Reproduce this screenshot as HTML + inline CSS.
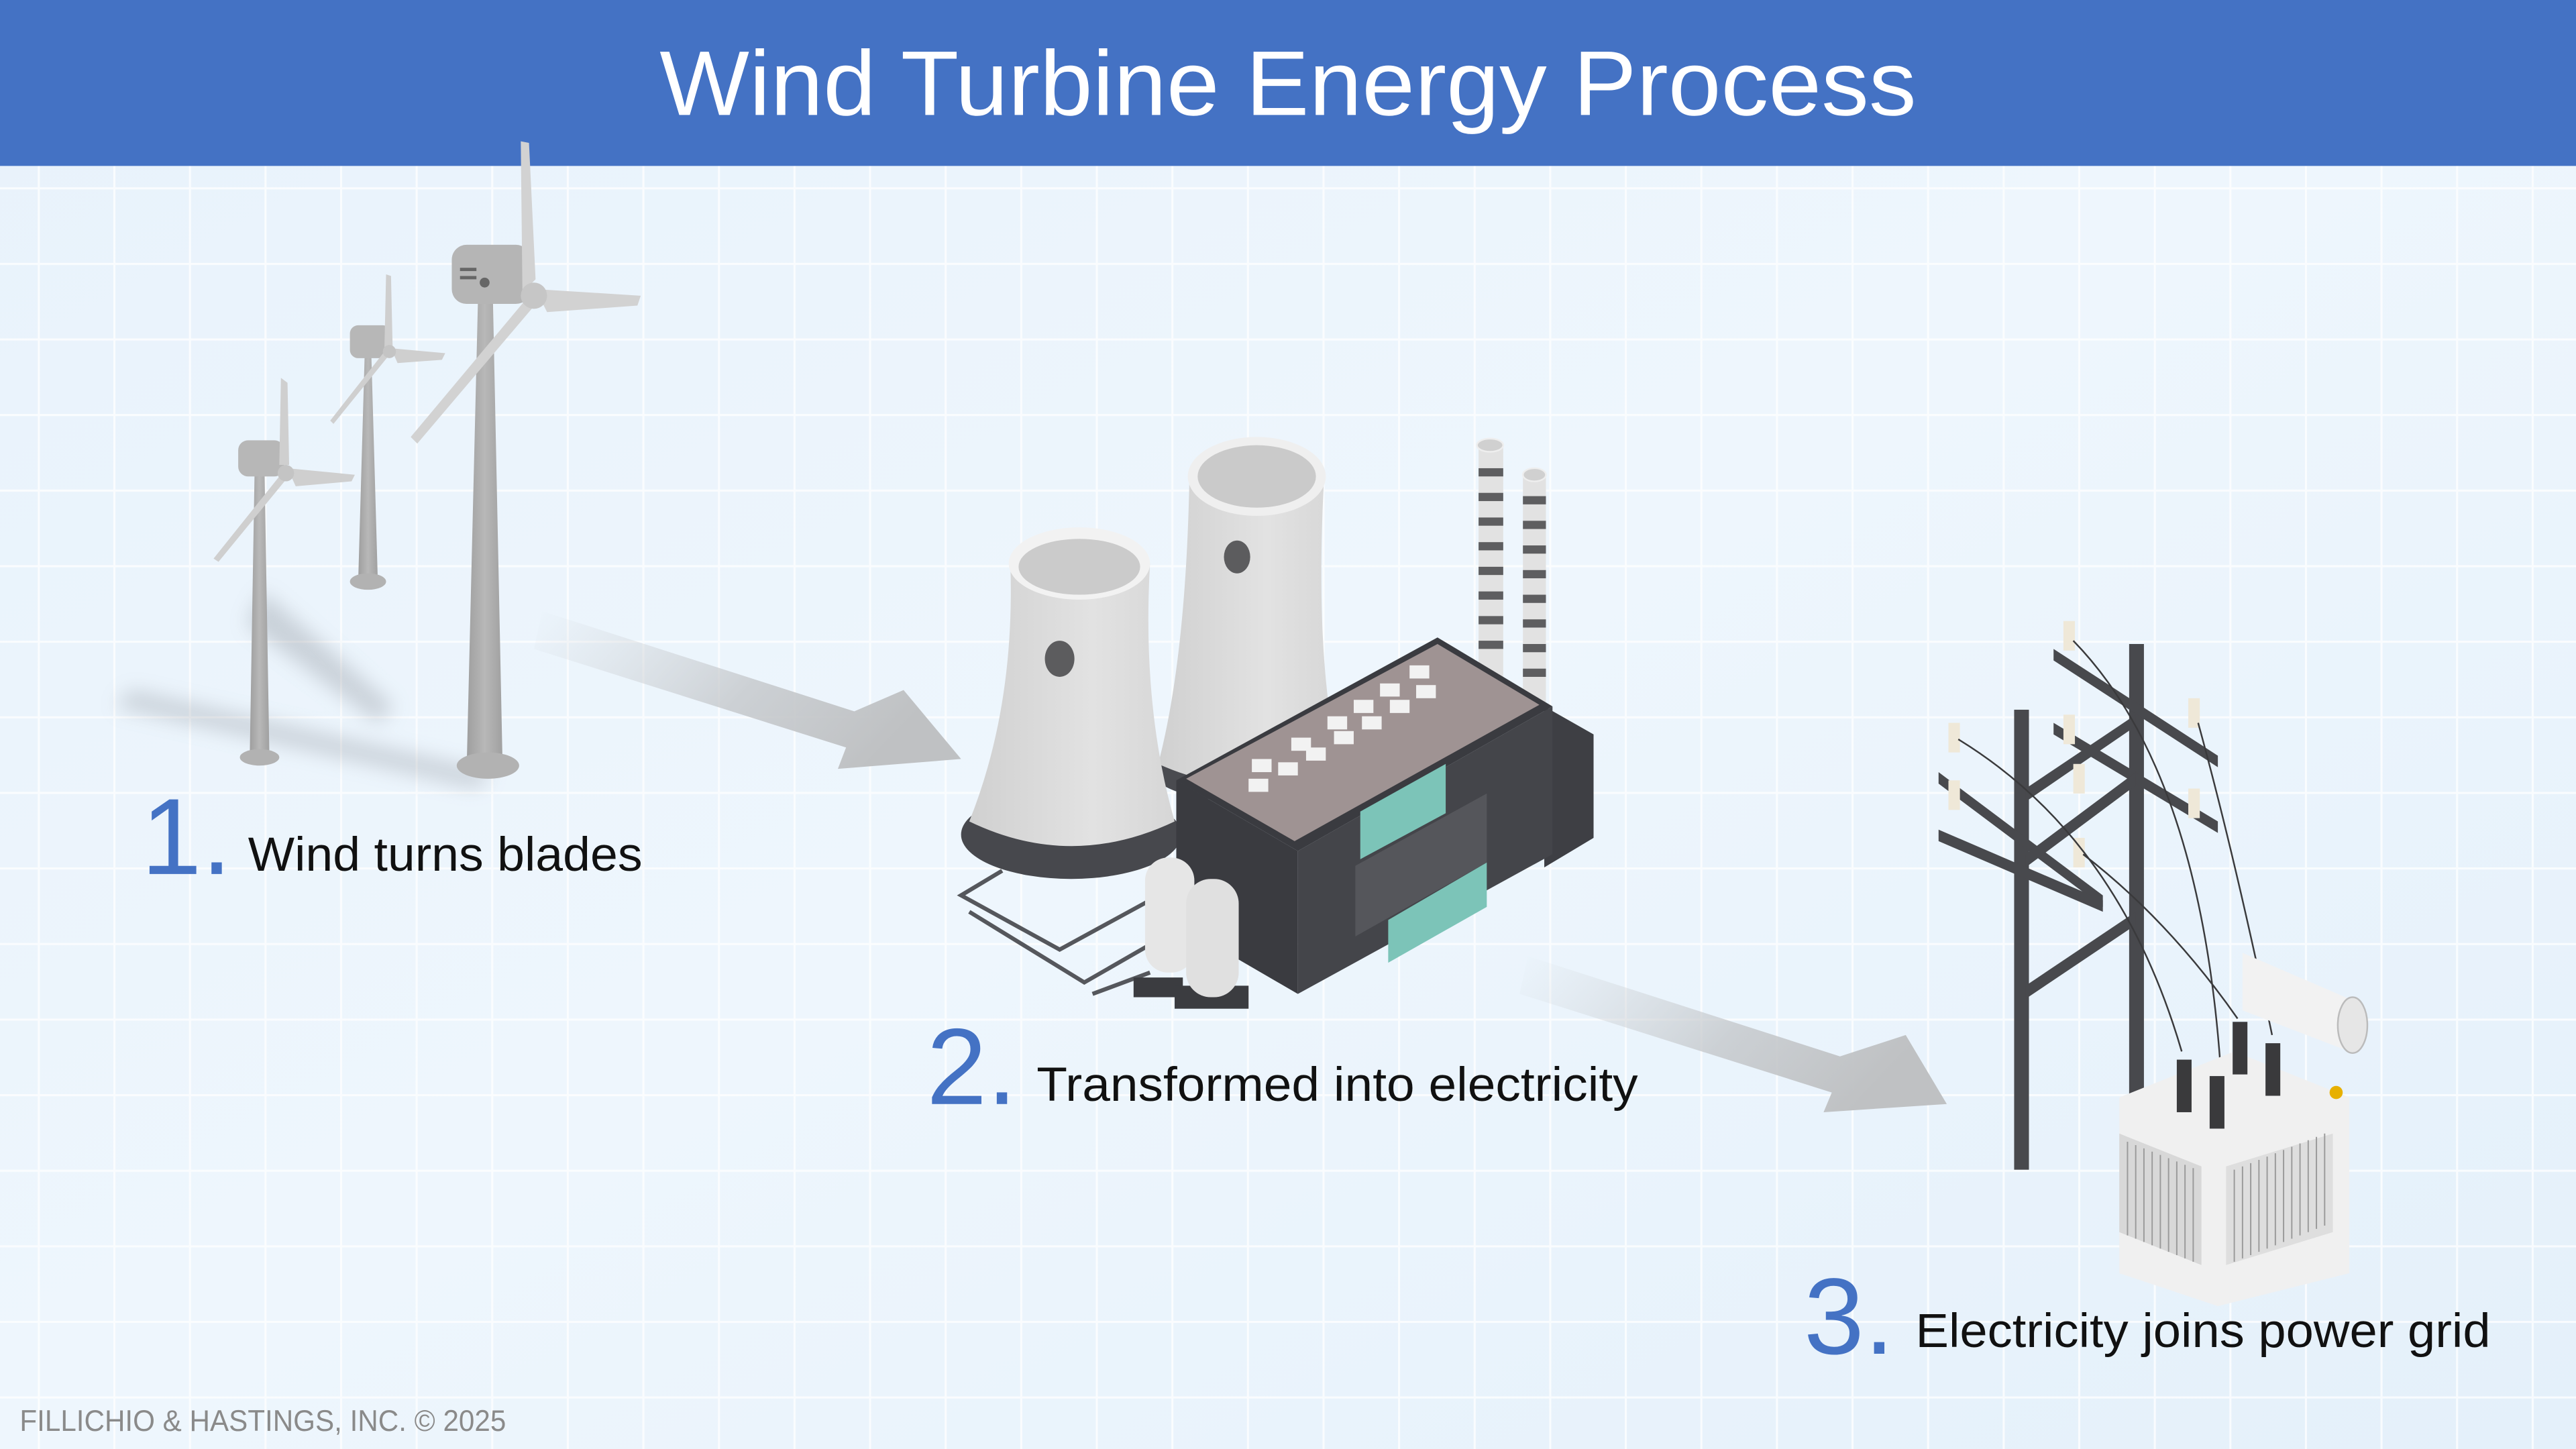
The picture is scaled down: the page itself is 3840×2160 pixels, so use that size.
<!DOCTYPE html>
<html><head><meta charset="utf-8"><style>
html,body{margin:0;padding:0;width:3840px;height:2160px;overflow:hidden;background:#eaf4fd}
svg{display:block}
</style></head><body>
<svg width="3840" height="2160" viewBox="0 0 1568 882" xmlns="http://www.w3.org/2000/svg">
<defs>
<linearGradient id="bg" x1="0" y1="0" x2="1" y2="1">
<stop offset="0" stop-color="#e8f2fb"/><stop offset="0.5" stop-color="#eef6fd"/><stop offset="1" stop-color="#e4f0fa"/>
</linearGradient>
<pattern id="grid" x="23" y="114" width="46" height="46" patternUnits="userSpaceOnUse">
<path d="M0 0H46M0 0V46" stroke="#ffffff" stroke-opacity="0.75" stroke-width="2.5" fill="none"/>
</pattern>
<linearGradient id="arr" x1="0" y1="0" x2="1" y2="0.35">
<stop offset="0" stop-color="#d0d4d8" stop-opacity="0"/><stop offset="0.6" stop-color="#c4c7ca" stop-opacity="0.8"/><stop offset="1" stop-color="#bfc1c3"/>
</linearGradient>
<linearGradient id="tw" x1="0" x2="1"><stop offset="0" stop-color="#c9c9c9"/><stop offset="0.5" stop-color="#dedede"/><stop offset="1" stop-color="#bdbdbd"/></linearGradient>
<linearGradient id="tower" x1="0" x2="1"><stop offset="0" stop-color="#9e9e9e"/><stop offset="0.5" stop-color="#b8b8b8"/><stop offset="1" stop-color="#a0a0a0"/></linearGradient>
<linearGradient id="ct" x1="0" x2="1"><stop offset="0" stop-color="#d0d0d0"/><stop offset="0.6" stop-color="#e2e2e2"/><stop offset="1" stop-color="#d6d6d6"/></linearGradient>
<filter id="blur"><feGaussianBlur stdDeviation="6"/></filter>
</defs>
<rect width="1568" height="882" fill="url(#bg)"/>
<rect y="101" width="1568" height="781" fill="url(#grid)"/>
<rect width="1568" height="101" fill="#4472c4"/>
<text x="784" y="70" text-anchor="middle" font-family="Liberation Sans, sans-serif" font-size="56" fill="#fff" textLength="765" lengthAdjust="spacingAndGlyphs">Wind Turbine Energy Process</text>

<!-- arrows -->
<polygon points="330,372 520,433 550,420 585,462 510,468 515,455 325,395" fill="url(#arr)"/>
<polygon points="930,582 1120,643 1160,630 1185,672 1110,677 1115,665 925,605" fill="url(#arr)"/>

<!-- turbine shadows -->
<g filter="url(#blur)" opacity="0.35" fill="#8a9098">
<path d="M160 360 L240 430 L230 440 L150 380Z"/>
<path d="M80 420 L300 470 L290 480 L70 430Z"/>
</g>

<!-- small turbine -->
<g>
<polygon points="155,285 161,285 164,462 152,462" fill="url(#tower)"/>
<ellipse cx="158" cy="461" rx="12" ry="5" fill="#b2b2b2"/>
<rect x="145" y="268" width="28" height="22" rx="6" fill="#b7b7b7"/>
<polygon points="171,230 175,233 176,283 170,283" fill="#cfcfcf"/>
<polygon points="175,285 216,289 214,293 180,296" fill="#cfcfcf"/>
<polygon points="170,290 174,292 133,342 130,340" fill="#cfcfcf"/>
<circle cx="174" cy="288" r="5" fill="#c4c4c4"/>
</g>
<!-- middle turbine -->
<g>
<polygon points="222,215 226,215 230,355 218,355" fill="url(#tower)"/>
<ellipse cx="224" cy="354" rx="11" ry="5" fill="#b2b2b2"/>
<rect x="213" y="198" width="25" height="20" rx="5" fill="#b7b7b7"/>
<polygon points="235,167 238,168 239,212 234,212" fill="#cfcfcf"/>
<polygon points="238,212 271,215 269,219 242,221" fill="#cfcfcf"/>
<polygon points="234,214 237,216 203,258 201,256" fill="#cfcfcf"/>
<circle cx="237" cy="214" r="4" fill="#c4c4c4"/>
</g>
<!-- big turbine -->
<g>
<polygon points="291,180 300,180 306,470 284,470" fill="url(#tower)"/>
<ellipse cx="297" cy="466" rx="19" ry="8" fill="#b2b2b2"/>
<rect x="275" y="149" width="48" height="36" rx="9" fill="#b5b5b5"/>
<rect x="280" y="163" width="10" height="2" fill="#666"/><rect x="280" y="168" width="10" height="2" fill="#666"/>
<circle cx="295" cy="172" r="3" fill="#666"/>
<polygon points="317,86 322,87 326,170 318,178" fill="#d2d2d2"/>
<polygon points="326,176 390,180 388,186 333,190" fill="#d2d2d2"/>
<polygon points="322,180 327,184 254,270 250,266" fill="#d2d2d2"/>
<circle cx="325" cy="180" r="8" fill="#c6c6c6"/>
</g>

<!-- pipes -->
<g fill="none" stroke="#55575c" stroke-width="2.5">
<path d="M610 530 L585 545 L645 578 L700 548"/>
<path d="M590 555 L660 598 L700 575"/>
<path d="M665 605 L700 592"/>
</g>
<!-- back cooling tower -->
<ellipse cx="760" cy="470" rx="58" ry="18" fill="#4a4b50"/>
<path d="M724 290 Q722 400 705 465 Q760 490 815 465 Q800 400 806 290 Z" fill="url(#ct)"/>
<ellipse cx="765" cy="290" rx="42" ry="24" fill="#efefef"/>
<ellipse cx="765" cy="290" rx="36" ry="19" fill="#cacaca"/>
<ellipse cx="753" cy="339" rx="8" ry="10" fill="#5c5c5e"/>
<!-- front cooling tower -->
<ellipse cx="652" cy="508" rx="67" ry="27" fill="#47484d"/>
<path d="M615 343 Q618 430 590 500 Q652 530 715 500 Q695 430 700 343 Z" fill="url(#ct)"/>
<ellipse cx="657" cy="343" rx="43" ry="22" fill="#f2f2f2"/>
<ellipse cx="657" cy="345" rx="37" ry="17" fill="#cbcbcb"/>
<ellipse cx="645" cy="401" rx="9" ry="11" fill="#5c5c5e"/>
<!-- chimneys -->
<g>
<rect x="900" y="270" width="15" height="150" fill="#e2e2e2"/>
<ellipse cx="907" cy="271" rx="8" ry="4" fill="#d0d0d0" stroke="#eee"/>
<g fill="#5e5e60"><rect x="900" y="285" width="15" height="5"/><rect x="900" y="300" width="15" height="5"/><rect x="900" y="315" width="15" height="5"/><rect x="900" y="330" width="15" height="5"/><rect x="900" y="345" width="15" height="5"/><rect x="900" y="360" width="15" height="5"/><rect x="900" y="375" width="15" height="5"/><rect x="900" y="390" width="15" height="5"/></g>
<rect x="927" y="288" width="14" height="140" fill="#e2e2e2"/>
<ellipse cx="934" cy="289" rx="7" ry="4" fill="#d0d0d0" stroke="#eee"/>
<g fill="#5e5e60"><rect x="927" y="302" width="14" height="5"/><rect x="927" y="317" width="14" height="5"/><rect x="927" y="332" width="14" height="5"/><rect x="927" y="347" width="14" height="5"/><rect x="927" y="362" width="14" height="5"/><rect x="927" y="377" width="14" height="5"/><rect x="927" y="392" width="14" height="5"/><rect x="927" y="407" width="14" height="5"/></g>
</g>
<!-- factory -->
<polygon points="940,430 970,447 970,510 940,528" fill="#3e3f44"/>
<polygon points="716,475 790,518 790,605 716,562" fill="#3a3b40"/>
<polygon points="790,518 945,430 945,520 790,605" fill="#44454a"/>
<polygon points="716,475 875,388 945,430 790,518" fill="#3a3b40"/>
<polygon points="722,474 875,392 937,429 788,512" fill="#9f9393"/>
<polygon points="828,494 880,465 880,495 828,523" fill="#7cc4b8"/>
<polygon points="825,527 905,483 905,525 825,570" fill="#55565b"/>
<polygon points="845,560 905,525 905,552 845,586" fill="#7cc4b8"/>
<g fill="#f2f2f2">
<rect x="760" y="474" width="12" height="8"/><rect x="778" y="464" width="12" height="8"/><rect x="795" y="455" width="12" height="8"/><rect x="812" y="445" width="12" height="8"/><rect x="829" y="436" width="12" height="8"/><rect x="846" y="426" width="12" height="8"/><rect x="862" y="417" width="12" height="8"/>
<rect x="762" y="462" width="12" height="8"/><rect x="786" y="449" width="12" height="8"/><rect x="808" y="436" width="12" height="8"/><rect x="824" y="426" width="12" height="8"/><rect x="840" y="416" width="12" height="8"/><rect x="858" y="405" width="12" height="8"/>
</g>
<!-- tanks -->
<rect x="690" y="595" width="30" height="12" fill="#3b3c40"/>
<rect x="715" y="600" width="45" height="14" fill="#3b3c40"/>
<rect x="697" y="522" width="30" height="70" rx="14" fill="#e6e6e6"/>
<rect x="722" y="535" width="32" height="72" rx="15" fill="#e0e0e0"/>

<!-- power pole -->
<g fill="#48494d">
<rect x="1226" y="432" width="9" height="280"/>
<rect x="1296" y="392" width="9" height="310"/>
<polygon points="1180,470 1280,545 1280,552 1180,477"/>
<polygon points="1180,505 1280,548 1280,555 1180,512"/>
<polygon points="1250,395 1350,460 1350,467 1250,402"/>
<polygon points="1250,440 1350,500 1350,507 1250,447"/>
<polygon points="1233,520 1300,470 1300,478 1233,528"/>
<polygon points="1233,600 1300,555 1300,563 1233,608"/>
<polygon points="1233,480 1300,435 1300,442 1233,488"/>
</g>
<g fill="#efe8d8"><rect x="1186" y="440" width="7" height="18"/><rect x="1186" y="475" width="7" height="18"/><rect x="1256" y="378" width="7" height="18"/><rect x="1256" y="435" width="7" height="18"/><rect x="1332" y="425" width="7" height="18"/><rect x="1332" y="480" width="7" height="18"/><rect x="1262" y="510" width="7" height="18"/><rect x="1262" y="465" width="7" height="18"/></g>
<g fill="none" stroke="#3a3a3c" stroke-width="1">
<path d="M1192 450 Q1290 510 1328 640"/><path d="M1262 390 Q1340 470 1352 655"/><path d="M1338 440 Q1360 520 1383 630"/><path d="M1268 520 Q1320 560 1362 620"/>
</g>
<!-- transformer -->
<polygon points="1290,668 1360,640 1430,668 1430,775 1350,795 1290,775" fill="#f0f0f0"/>
<polygon points="1290,690 1340,710 1340,770 1290,750" fill="#d8d8d8"/>
<polygon points="1355,710 1420,690 1420,750 1355,770" fill="#dedede"/>
<g stroke="#9a9a9a" stroke-width="0.8">
<path d="M1295 695V752M1300 697V754M1305 699V756M1310 701V758M1315 703V760M1320 705V762M1325 707V764M1330 709V766M1335 711V768M1360 712V768M1365 710V766M1370 708V764M1375 706V762M1380 704V760M1385 702V758M1390 700V756M1395 698V754M1400 696V752M1405 694V750M1410 692V748M1415 690V746"/>
</g>
<path d="M1365 580 L1430 608 L1430 640 L1365 615 Z" fill="#f2f2f2"/>
<ellipse cx="1432" cy="624" rx="9" ry="17" fill="#e6e6e6" stroke="#bbb"/>
<g fill="#3a3a3c"><rect x="1325" y="645" width="9" height="32"/><rect x="1345" y="655" width="9" height="32"/><rect x="1359" y="622" width="9" height="32"/><rect x="1379" y="635" width="9" height="32"/></g>
<circle cx="1422" cy="665" r="4" fill="#e7b000"/>

<!-- labels -->
<g font-family="Liberation Sans, sans-serif">
<text x="86" y="532" font-size="66" fill="#4472c4">1<tspan font-size="66">.</tspan></text>
<text x="151" y="530" font-size="29" fill="#111" textLength="240" lengthAdjust="spacingAndGlyphs">Wind turns blades</text>
<text x="564" y="672" font-size="66" fill="#4472c4">2.</text>
<text x="631" y="670" font-size="29" fill="#111" textLength="366" lengthAdjust="spacingAndGlyphs">Transformed into electricity</text>
<text x="1098" y="824" font-size="66" fill="#4472c4">3.</text>
<text x="1166" y="820" font-size="29" fill="#111" textLength="350" lengthAdjust="spacingAndGlyphs">Electricity joins power grid</text>
<text x="12" y="871" font-size="18" fill="#8a8a8a" textLength="296" lengthAdjust="spacingAndGlyphs">FILLICHIO &amp; HASTINGS, INC. © 2025</text>
</g>
</svg>
</body></html>
